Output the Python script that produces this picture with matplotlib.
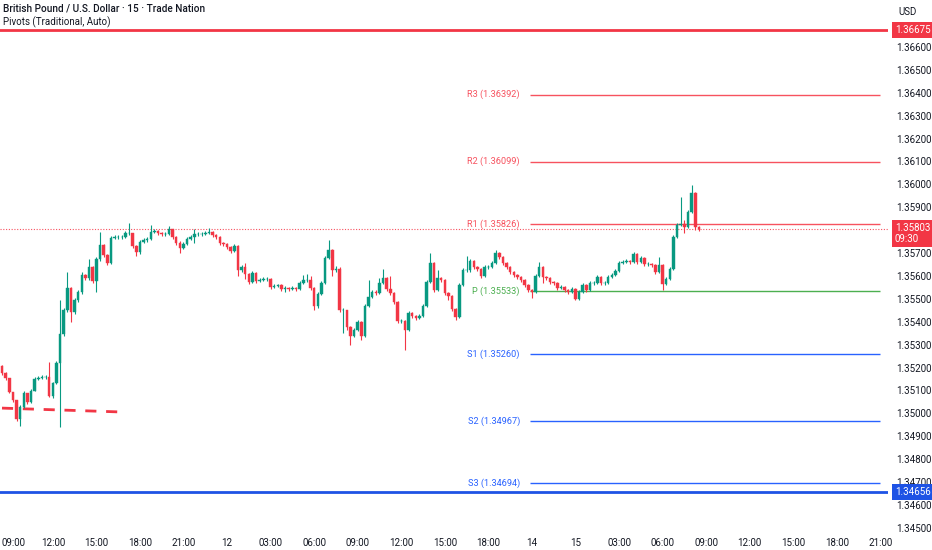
import matplotlib.pyplot as plt
from matplotlib.transforms import ScaledTranslation

# GBPUSD 15m candles, open of each bar = previous close
first_open = 1.35207
closes = [
    1.35176, 1.35154, 1.35093, 1.35058, 1.34976, 1.35027, 1.35089, 1.35049, 1.35098, 1.35150,
    1.35154, 1.35159, 1.35159, 1.35076, 1.35133, 1.35220, 1.35347, 1.35451, 1.35547, 1.35442,
    1.35495, 1.35530, 1.35604, 1.35591, 1.35639, 1.35578, 1.35674, 1.35735, 1.35691, 1.35657,
    1.35766, 1.35770, 1.35770, 1.35770, 1.35788, 1.35788, 1.35731, 1.35705, 1.35748, 1.35757,
    1.35761, 1.35792, 1.35796, 1.35788, 1.35783, 1.35783, 1.35805, 1.35770, 1.35744, 1.35722,
    1.35739, 1.35761, 1.35770, 1.35783, 1.35783, 1.35783, 1.35788, 1.35792, 1.35779, 1.35770,
    1.35744, 1.35739, 1.35726, 1.35709, 1.35731, 1.35626, 1.35639, 1.35609, 1.35574, 1.35613,
    1.35578, 1.35582, 1.35587, 1.35587, 1.35552, 1.35556, 1.35561, 1.35543, 1.35547, 1.35543,
    1.35547, 1.35543, 1.35569, 1.35582, 1.35582, 1.35547, 1.35469, 1.35521, 1.35569, 1.35678,
    1.35713, 1.35626, 1.35630, 1.35451, 1.35451, 1.35377, 1.35338, 1.35364, 1.35399, 1.35338,
    1.35469, 1.35508, 1.35530, 1.35526, 1.35569, 1.35591, 1.35543, 1.35526, 1.35486, 1.35403,
    1.35403, 1.35364, 1.35438, 1.35425, 1.35416, 1.35425, 1.35469, 1.35574, 1.35657, 1.35539,
    1.35591, 1.35582, 1.35526, 1.35513, 1.35456, 1.35421, 1.35561, 1.35626, 1.35626, 1.35665,
    1.35639, 1.35630, 1.35600, 1.35639, 1.35639, 1.35657, 1.35700, 1.35683, 1.35657, 1.35639,
    1.35617, 1.35604, 1.35596, 1.35582, 1.35561, 1.35539, 1.35530, 1.35600, 1.35639, 1.35596,
    1.35591, 1.35574, 1.35569, 1.35547, 1.35552, 1.35539, 1.35530, 1.35543, 1.35500, 1.35530,
    1.35561, 1.35539, 1.35569, 1.35569, 1.35596, 1.35569, 1.35569, 1.35596, 1.35604, 1.35622,
    1.35657, 1.35661, 1.35665, 1.35661, 1.35696, 1.35661, 1.35678, 1.35652, 1.35652, 1.35648,
    1.35617, 1.35648, 1.35565, 1.35587, 1.35630, 1.35770, 1.35822, 1.35827, 1.35814, 1.35879,
    1.35962, 1.35814, 1.35803,
]
highs = [
    1.35211, 1.35180, 1.35154, 1.35093, 1.35058, 1.35036, 1.35098, 1.35089, 1.35107, 1.35159,
    1.35163, 1.35167, 1.35167, 1.35224, 1.35137, 1.35229, 1.35495, 1.35460, 1.35617, 1.35552,
    1.35504, 1.35539, 1.35617, 1.35609, 1.35674, 1.35644, 1.35683, 1.35792, 1.35739, 1.35696,
    1.35774, 1.35779, 1.35779, 1.35779, 1.35796, 1.35831, 1.35788, 1.35735, 1.35757, 1.35766,
    1.35770, 1.35822, 1.35805, 1.35801, 1.35792, 1.35792, 1.35818, 1.35805, 1.35774, 1.35753,
    1.35748, 1.35770, 1.35779, 1.35805, 1.35792, 1.35792, 1.35796, 1.35809, 1.35796, 1.35783,
    1.35774, 1.35748, 1.35744, 1.35731, 1.35739, 1.35735, 1.35648, 1.35657, 1.35613, 1.35622,
    1.35617, 1.35591, 1.35596, 1.35596, 1.35591, 1.35565, 1.35565, 1.35565, 1.35556, 1.35552,
    1.35556, 1.35552, 1.35578, 1.35604, 1.35609, 1.35600, 1.35552, 1.35530, 1.35578, 1.35687,
    1.35757, 1.35718, 1.35644, 1.35639, 1.35460, 1.35451, 1.35381, 1.35373, 1.35408, 1.35403,
    1.35478, 1.35582, 1.35539, 1.35539, 1.35591, 1.35630, 1.35596, 1.35600, 1.35530, 1.35491,
    1.35412, 1.35408, 1.35447, 1.35442, 1.35429, 1.35434, 1.35478, 1.35582, 1.35700, 1.35661,
    1.35626, 1.35596, 1.35587, 1.35530, 1.35517, 1.35460, 1.35569, 1.35635, 1.35687, 1.35674,
    1.35670, 1.35644, 1.35635, 1.35648, 1.35648, 1.35665, 1.35713, 1.35705, 1.35687, 1.35661,
    1.35644, 1.35622, 1.35609, 1.35600, 1.35587, 1.35565, 1.35543, 1.35609, 1.35661, 1.35644,
    1.35600, 1.35596, 1.35578, 1.35574, 1.35561, 1.35556, 1.35543, 1.35552, 1.35547, 1.35539,
    1.35569, 1.35565, 1.35578, 1.35578, 1.35604, 1.35600, 1.35578, 1.35604, 1.35613, 1.35630,
    1.35665, 1.35670, 1.35674, 1.35670, 1.35705, 1.35700, 1.35687, 1.35683, 1.35661, 1.35657,
    1.35652, 1.35683, 1.35652, 1.35596, 1.35639, 1.35779, 1.35831, 1.35945, 1.35844, 1.35888,
    1.35997, 1.35967, 1.35818,
]
lows = [
    1.35167, 1.35146, 1.35089, 1.35049, 1.34967, 1.34945, 1.35023, 1.35041, 1.35045, 1.35098,
    1.35146, 1.35150, 1.35150, 1.35071, 1.35067, 1.35128, 1.34940, 1.35338, 1.35442, 1.35399,
    1.35434, 1.35486, 1.35521, 1.35582, 1.35582, 1.35569, 1.35530, 1.35665, 1.35683, 1.35648,
    1.35652, 1.35761, 1.35761, 1.35761, 1.35766, 1.35779, 1.35722, 1.35687, 1.35696, 1.35744,
    1.35748, 1.35757, 1.35788, 1.35779, 1.35774, 1.35774, 1.35779, 1.35761, 1.35735, 1.35700,
    1.35718, 1.35735, 1.35757, 1.35744, 1.35774, 1.35774, 1.35779, 1.35783, 1.35770, 1.35761,
    1.35735, 1.35731, 1.35718, 1.35700, 1.35705, 1.35600, 1.35617, 1.35587, 1.35565, 1.35569,
    1.35569, 1.35574, 1.35578, 1.35578, 1.35543, 1.35547, 1.35552, 1.35535, 1.35530, 1.35535,
    1.35539, 1.35535, 1.35539, 1.35565, 1.35574, 1.35539, 1.35451, 1.35460, 1.35517, 1.35565,
    1.35674, 1.35600, 1.35617, 1.35442, 1.35351, 1.35364, 1.35298, 1.35333, 1.35360, 1.35320,
    1.35333, 1.35465, 1.35504, 1.35517, 1.35521, 1.35565, 1.35535, 1.35517, 1.35478, 1.35395,
    1.35395, 1.35277, 1.35360, 1.35416, 1.35408, 1.35412, 1.35421, 1.35465, 1.35569, 1.35530,
    1.35535, 1.35574, 1.35517, 1.35495, 1.35447, 1.35408, 1.35416, 1.35556, 1.35617, 1.35617,
    1.35630, 1.35622, 1.35591, 1.35596, 1.35630, 1.35635, 1.35652, 1.35674, 1.35648, 1.35630,
    1.35609, 1.35596, 1.35587, 1.35574, 1.35552, 1.35530, 1.35504, 1.35526, 1.35596, 1.35569,
    1.35582, 1.35565, 1.35561, 1.35539, 1.35543, 1.35530, 1.35521, 1.35526, 1.35495, 1.35495,
    1.35526, 1.35530, 1.35535, 1.35561, 1.35565, 1.35561, 1.35561, 1.35565, 1.35591, 1.35600,
    1.35617, 1.35652, 1.35657, 1.35652, 1.35657, 1.35652, 1.35657, 1.35643, 1.35643, 1.35639,
    1.35609, 1.35613, 1.35539, 1.35561, 1.35582, 1.35626, 1.35766, 1.35818, 1.35788, 1.35809,
    1.35875, 1.35801, 1.35796,
]
opens = [first_open] + closes[:-1]

# pivot levels (Traditional, Auto)
pivot_names = ["R3", "R2", "R1", "P", "S1", "S2", "S3"]
pivot_levels = [1.36392, 1.36099, 1.35826, 1.35533, 1.35260, 1.34967, 1.34694]
pivot_colors = ["#f7525f", "#f7525f", "#f7525f", "#4caf50", "#2962ff", "#2962ff", "#2962ff"]
pivot_start, pivot_end = 145.5, 242

old_pivot_x = [0, 33]
old_pivot_y = [1.35023, 1.35006]

high_line = 1.36675
low_line = 1.34656
last_price = 1.35803
countdown = "09:30"

time_ticks = [2 + 12 * k for k in range(21)]
time_labels = ["09:00", "12:00", "15:00", "18:00", "21:00", "12", "03:00", "06:00",
               "09:00", "12:00", "15:00", "18:00", "14", "15", "03:00", "06:00",
               "09:00", "12:00", "15:00", "18:00", "21:00"]
price_ticks = [1.345 + 0.001 * k for k in range(22) if k not in (13,)]

UP = "#089981"
DOWN = "#f23645"
TXT = "#131722"

plt.rcParams['font.family'] = ['Roboto', 'DejaVu Sans']

fig = plt.figure(figsize=(9.32, 5.5), dpi=100)
ax = fig.add_axes([0, 18 / 550, 888 / 932, 532 / 550])

x = list(range(len(closes)))
colors = [UP if c >= o else DOWN for o, c in zip(opens, closes)]
ax.vlines(x, lows, highs, colors=colors, linewidth=0.8, zorder=3)
bottoms = [min(o, c) for o, c in zip(opens, closes)]
heights = [max(abs(c - o), 0.000015) for o, c in zip(opens, closes)]
ax.bar(x, heights, bottom=bottoms, width=0.7, color=colors, edgecolor=colors,
       linewidth=0.3, zorder=4)

# old pivot (dashed)
ax.plot(old_pivot_x, old_pivot_y, color=DOWN, lw=2, ls=(0, (4, 3.5)), zorder=2)

ax.axhline(high_line, color=DOWN, lw=2, zorder=5)
ax.axhline(low_line, color="#1e53e5", lw=2, zorder=5)
ax.axhline(last_price, color="#f7525f", lw=0.8, ls=(0, (1, 1.5)), zorder=2)

for name, lvl, col in zip(pivot_names, pivot_levels, pivot_colors):
    ax.hlines(lvl, pivot_start, pivot_end, colors=col, lw=1, zorder=2)
    ax.text(pivot_start - 2.8, lvl, f"{name} ({lvl:.5f})", color=col, fontsize=6.6,
            ha='right', va='center')

ax.set_xlim(-0.55, 244.1)
ax.set_ylim(1.34482, 1.36805)

ax.yaxis.tick_right()
ax.set_yticks(price_ticks)
ax.set_yticklabels([f"{p:.5f}" for p in price_ticks])
ax.tick_params(axis='y', length=0, pad=6, labelsize=7, labelcolor=TXT)
ax.set_xticks(time_ticks)
ax.set_xticklabels(time_labels)
ax.tick_params(axis='x', length=0, pad=4, labelsize=7, labelcolor=TXT)
first = ax.get_xticklabels()[0]
first.set_horizontalalignment('left')
first.set_transform(first.get_transform() + ScaledTranslation(-8 / 100, 0, fig.dpi_scale_trans))
for s in ax.spines.values():
    s.set_visible(False)

tag_kw = dict(xycoords=('axes fraction', 'data'), textcoords='offset points',
              fontsize=7, color='white', ha='left', annotation_clip=False)
ax.annotate(f"{high_line:.5f}", xy=(1, high_line), xytext=(5, 0), va='center',
            bbox=dict(boxstyle='square,pad=0.3', fc=DOWN, ec='none'), **tag_kw)
ax.annotate(f"{low_line:.5f}", xy=(1, low_line), xytext=(5, 0), va='center',
            bbox=dict(boxstyle='square,pad=0.3', fc="#1e53e5", ec='none'), **tag_kw)
ax.annotate(f"{last_price:.5f}\n{countdown}", xy=(1, last_price), xytext=(5, 5), va='top',
            linespacing=1.2, bbox=dict(boxstyle='square,pad=0.3', fc=DOWN, ec='none'), **tag_kw)

fig.text(908 / 932, 1 - 12 / 550, "USD", fontsize=7, color=TXT, ha='center', va='center')
fig.text(3 / 932, 1 - 9 / 550, "British Pound / U.S. Dollar · 15 · Trade Nation",
         fontsize=7.2, color=TXT, ha='left', va='center', fontweight='medium')
fig.text(3 / 932, 1 - 22 / 550, "Pivots (Traditional, Auto)",
         fontsize=7, color=TXT, ha='left', va='center')

fig.savefig("out.png", dpi=100, facecolor='white')
